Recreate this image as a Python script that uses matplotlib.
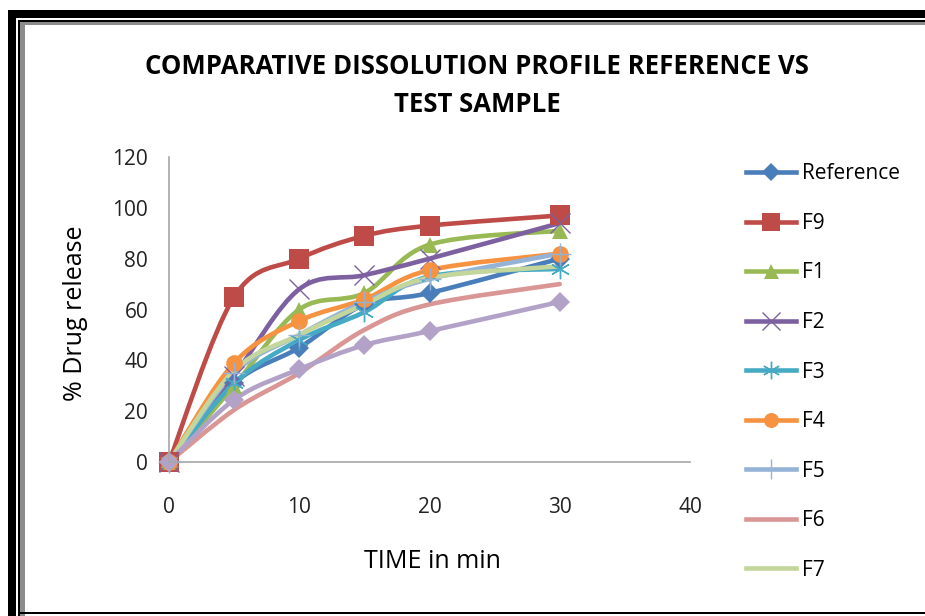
import matplotlib
matplotlib.use("Agg")
import numpy as np
import matplotlib.pyplot as plt
from matplotlib.path import Path
from matplotlib.patches import PathPatch, Rectangle
from matplotlib.lines import Line2D

# sampling times (min)
time = [0, 5, 10, 15, 20, 30]

# % drug release
reference = [0, 31, 45, 62, 66.5, 80]
f9 = [0, 65, 80, 89, 93, 97]
f1 = [0, 30, 60, 66.5, 85.5, 91]
f2 = [0, 34, 68, 73.5, 80, 94]
f3 = [0, 31, 48, 59, 73, 76]
f4 = [0, 39, 55.5, 64, 75.5, 82]
f5 = [0, 35, 50, 63, 72, 82]
f6 = [0, 20.5, 35, 52, 62, 70]
f7 = [0, 36, 50, 62, 72.5, 77]
f8 = [0, 24.5, 36.5, 46, 51.5, 63]

names = ["Reference", "F9", "F1", "F2", "F3", "F4", "F5", "F6", "F7", "F8"]
series = [reference, f9, f1, f2, f3, f4, f5, f6, f7, f8]
colors = ["#4A7EBB", "#BE4B48", "#98B954", "#7D60A0", "#46AAC5",
          "#F69240", "#95B3D7", "#D99694", "#C3D69B", "#B3A2C7"]
markers = ["D", "s", "^", "x", (6, 2, 0), "o", "+", None, None, "D"]
msizes = [10, 14, 12, 14, 14, 12, 16, 0, 0, 10]

FONT = "Open Sans"


def smooth_path(x, y):
    # Excel-like smoothed line: cubic Bezier segments (Catmull-Rom control points)
    pts = np.column_stack([x, y]).astype(float)
    n = len(pts)
    verts = [pts[0]]
    codes = [Path.MOVETO]
    for i in range(n - 1):
        p0 = pts[i - 1] if i > 0 else pts[i]
        p1 = pts[i]
        p2 = pts[i + 1]
        p3 = pts[i + 2] if i + 2 < n else pts[i + 1]
        c1 = p1 + (p2 - p0) / 6.0
        c2 = p2 - (p3 - p1) / 6.0
        verts += [c1, c2, p2]
        codes += [Path.CURVE4] * 3
    return Path(verts, codes)


fig = plt.figure(figsize=(9.25, 6.16), dpi=100)
fig.patch.set_facecolor("white")

# frame around the picture
W, H = 925.0, 616.0
def band(x, y, w, h, col="black"):
    fig.add_artist(Rectangle((x / W, 1 - (y + h) / H), w / W, h / H,
                             transform=fig.transFigure, color=col, lw=0))

band(8, 10, W, 8)                 # thick top
band(8, 10, 8, H)                 # thick left
band(18, 20, W, 1.5)              # thin top
band(18, 20, 1.5, H)              # thin left
band(20, 22, W, 2.5, "#8c8c8c")   # grey top
band(20, 22, 5, H, "#8c8c8c")     # grey left
band(18, 612, W, 2)               # bottom line

ax = fig.add_axes([169 / W, 1 - 462 / H, (690 - 169) / W, (462 - 157) / H])
ax.set_xlim(0, 40)
ax.set_ylim(0, 120)
ax.set_xticks([0, 10, 20, 30, 40])
ax.set_yticks([0, 20, 40, 60, 80, 100, 120])
for s in ["top", "right"]:
    ax.spines[s].set_visible(False)
for s in ["left", "bottom"]:
    ax.spines[s].set_color("#a6a6a6")
    ax.spines[s].set_linewidth(1.2)
ax.tick_params(length=0, labelsize=15, colors="#222222")
ax.tick_params(axis="y", pad=15)
ax.tick_params(axis="x", pad=25)
for lab in ax.get_xticklabels() + ax.get_yticklabels():
    lab.set_fontfamily(FONT)

handles = []
for name, vals, col, mk, ms in zip(names, series, colors, markers, msizes):
    ax.add_patch(PathPatch(smooth_path(time, vals), facecolor="none",
                           edgecolor=col, lw=3.3, capstyle="round", joinstyle="round",
                           clip_on=False))
    mew = 1.0 if mk in ("x", (6, 2, 0), "+") else 0
    if mk is not None:
        ax.plot(time, vals, linestyle="none", marker=mk, markersize=ms,
                color=col, markeredgecolor=col, markeredgewidth=mew, clip_on=False)
    handles.append(Line2D([], [], color=col, lw=3.3, marker=mk,
                          markersize=ms * 0.9, markeredgewidth=mew, label=name))

fig.text(477 / W, 1 - 66 / H, "COMPARATIVE DISSOLUTION PROFILE REFERENCE VS",
         ha="center", va="center", fontsize=18.5, fontweight="bold", family=FONT)
fig.text(477 / W, 1 - 104 / H, "TEST SAMPLE",
         ha="center", va="center", fontsize=18.5, fontweight="bold", family=FONT)
fig.text(75 / W, 1 - 313 / H, "% Drug release", rotation=90, ha="center", va="center",
         fontsize=18, family=FONT)
fig.text(432 / W, 1 - 562 / H, "TIME in min", ha="center", va="center",
         fontsize=18, family=FONT)

# legend: only the first nine entries fit inside the chart area
leg = fig.legend(handles=handles[:9], loc="upper left",
                 bbox_to_anchor=(738 / W, 1 - 155 / H), frameon=False,
                 prop={"family": FONT, "size": 15}, handlelength=2.4,
                 handletextpad=0.25, labelspacing=1.37, borderaxespad=0)

fig.savefig("out.png", dpi=100, facecolor="white")
